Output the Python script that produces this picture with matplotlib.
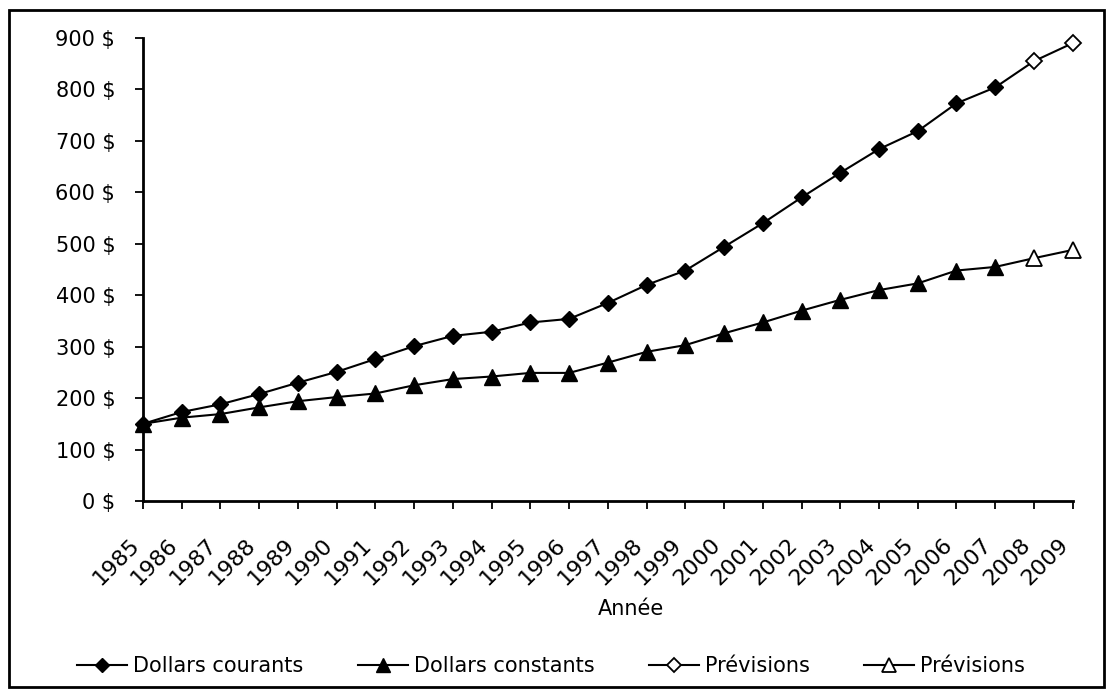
import matplotlib
matplotlib.use("Agg")
import matplotlib.pyplot as plt
from matplotlib.lines import Line2D
from matplotlib.patches import Rectangle

# Yearly figures
years = list(range(1985, 2010))
courants = [150, 173, 188, 208, 230, 251, 276, 301, 321, 329, 347, 354,
            385, 420, 448, 494, 540, 590, 638, 684, 719, 773, 804]
constants = [150, 162, 169, 182, 194, 202, 209, 225, 237, 242, 249, 249,
             269, 290, 303, 326, 347, 370, 391, 410, 423, 448, 455]
# Forecast years 2008-2009
prev_courants = [855, 890]
prev_constants = [472, 488]

y_ticks = list(range(0, 1000, 100))
y_labels = [f"{v} $" for v in y_ticks]
legend_labels = ["Dollars courants", "Dollars constants", "Prévisions", "Prévisions"]

plt.rcParams["font.family"] = ["DejaVu Sans"]

W, H = 1113, 694
fig = plt.figure(figsize=(W / 100, H / 100), dpi=100)
ax = fig.add_axes([143 / W, 1 - 501 / H, (1072.7 - 143) / W, (501 - 38) / H])

n_hist = len(courants)
hist_years = years[:n_hist]
fc_years = years[n_hist - 1:]

lw = 1.5
d_ms, t_ms = 8.5, 11
# forecast segments (start from the last observed year so the line joins)
ax.plot(fc_years, [courants[-1]] + prev_courants, color="black", lw=lw,
        marker="D", ms=d_ms, mfc="white", mec="black", mew=1.3,
        markevery=[1, 2], zorder=3, clip_on=False)
ax.plot(fc_years, [constants[-1]] + prev_constants, color="black", lw=lw,
        marker="^", ms=t_ms, mfc="white", mec="black", mew=1.3,
        markevery=[1, 2], zorder=3, clip_on=False)
# observed series
ax.plot(hist_years, courants, color="black", lw=lw, marker="D", ms=d_ms,
        mfc="black", mec="black", zorder=4, clip_on=False)
ax.plot(hist_years, constants, color="black", lw=lw, marker="^", ms=t_ms,
        mfc="black", mec="black", zorder=4, clip_on=False)

ax.set_xlim(years[0], years[-1])
ax.set_ylim(0, 900)
ax.set_xticks(years)
ax.set_xticklabels([str(y) for y in years], rotation=45, ha="right")
ax.set_yticks(y_ticks)
ax.set_yticklabels(y_labels)

for s in ["top", "right"]:
    ax.spines[s].set_visible(False)
for s in ["left", "bottom"]:
    ax.spines[s].set_linewidth(2)
    ax.spines[s].set_color("black")

ax.tick_params(axis="y", direction="out", length=6, width=1.3, pad=14,
               labelsize=15, colors="black")
ax.tick_params(axis="x", direction="out", length=6, width=1.3, pad=18,
               labelsize=16, colors="black")

fig.text(631 / W, 1 - 609 / H, "Année", ha="center", va="center",
         fontsize=15)

handles = [
    Line2D([], [], color="black", lw=lw, marker="D", ms=d_ms - 1, mfc="black", mec="black"),
    Line2D([], [], color="black", lw=lw, marker="^", ms=t_ms - 1, mfc="black", mec="black"),
    Line2D([], [], color="black", lw=lw, marker="D", ms=d_ms - 1, mfc="white", mec="black", mew=1.3),
    Line2D([], [], color="black", lw=lw, marker="^", ms=t_ms - 1, mfc="white", mec="black", mew=1.3),
]
fig.legend(handles, legend_labels, loc="center", ncol=4,
           bbox_to_anchor=(551 / W, 1 - 666 / H), frameon=False,
           fontsize=15, handlelength=2.4, handletextpad=0.3,
           columnspacing=2.6)

# outer frame around the chart area
fig.patches.append(Rectangle((9 / W, 1 - 687 / H), (1104 - 9) / W, (687 - 10) / H,
                             transform=fig.transFigure, fill=False,
                             edgecolor="black", lw=2))

fig.savefig("out.png", dpi=100)
